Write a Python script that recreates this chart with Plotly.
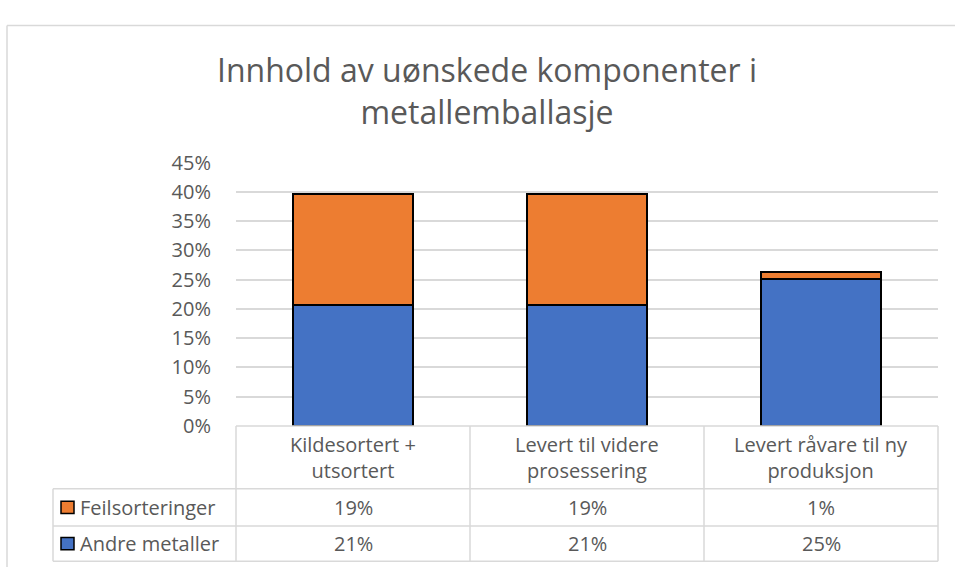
import plotly.graph_objects as go

# Data
categories = ["Kildesortert +<br>utsortert", "Levert til videre<br>prosessering", "Levert råvare til ny<br>produksjon"]
series_names = ["Feilsorteringer", "Andre metaller"]
andre_metaller = [0.206, 0.206, 0.251]
feilsorteringer = [0.190, 0.190, 0.012]
y_ticks = [0, 0.05, 0.10, 0.15, 0.20, 0.25, 0.30, 0.35, 0.40, 0.45]

W, H = 955, 580
BLUE = "#4472c4"
ORANGE = "#ed7d31"
GRID = "#d9d9d9"
TEXT = "#595959"
FONT = "Open Sans"

# plot area in pixels
px_left, px_right = 236, 938
px_top, px_bottom = 156, 432


def fx(px):
    return px / W


def fy(py):
    return 1 - py / H


fig = go.Figure()
fig.add_trace(
    go.Bar(
        x=list(range(len(categories))),
        y=andre_metaller,
        name=series_names[1],
        marker=dict(color=BLUE, line=dict(color="black", width=2)),
    )
)
fig.add_trace(
    go.Bar(
        x=list(range(len(categories))),
        y=feilsorteringer,
        name=series_names[0],
        marker=dict(color=ORANGE, line=dict(color="black", width=2)),
    )
)

shapes = []
annotations = []

# chart border: only the top and left edges are inside the picture
border = dict(color=GRID, width=1.5)
shapes.append(dict(type="line", xref="paper", yref="paper",
                   x0=fx(7), x1=1, y0=fy(12), y1=fy(12), line=border))
shapes.append(dict(type="line", xref="paper", yref="paper",
                   x0=fx(7), x1=fx(7), y0=fy(12), y1=0, line=border))

# data table grid
col_w = (px_right - px_left) / len(categories)
row_y = [432, 498, 537, 574]
line_style = dict(color=GRID, width=1.5)
# header top
shapes.append(dict(type="line", xref="paper", yref="paper",
                   x0=fx(px_left), x1=fx(px_right), y0=fy(row_y[0]), y1=fy(row_y[0]), line=line_style))
for ry in row_y[1:]:
    shapes.append(dict(type="line", xref="paper", yref="paper",
                       x0=fx(53), x1=fx(px_right), y0=fy(ry), y1=fy(ry), line=line_style))
for i in range(len(categories) + 1):
    cx = px_left + i * col_w
    shapes.append(dict(type="line", xref="paper", yref="paper",
                       x0=fx(cx), x1=fx(cx), y0=fy(row_y[0]), y1=fy(row_y[3]), line=line_style))
shapes.append(dict(type="line", xref="paper", yref="paper",
                   x0=fx(53), x1=fx(53), y0=fy(row_y[1]), y1=fy(row_y[3]), line=line_style))

# header labels
for i, cat in enumerate(categories):
    annotations.append(dict(xref="paper", yref="paper",
                            x=fx(px_left + (i + 0.5) * col_w), y=fy((row_y[0] + row_y[1]) / 2),
                            text=cat, showarrow=False, xanchor="center", yanchor="middle",
                            font=dict(family=FONT, size=20, color=TEXT)))

# value rows
rows = [(series_names[0], feilsorteringer, ORANGE), (series_names[1], andre_metaller, BLUE)]
for r, (name, vals, color) in enumerate(rows):
    yc = (row_y[r + 1] + row_y[r + 2]) / 2
    shapes.append(dict(type="rect", xref="paper", yref="paper",
                       x0=fx(61), x1=fx(74), y0=fy(yc - 6.5), y1=fy(yc + 6.5),
                       fillcolor=color, line=dict(color="black", width=1.5)))
    annotations.append(dict(xref="paper", yref="paper", x=fx(78), y=fy(yc),
                            text=name, showarrow=False, xanchor="left", yanchor="middle",
                            font=dict(family=FONT, size=20, color=TEXT)))
    for i, v in enumerate(vals):
        annotations.append(dict(xref="paper", yref="paper",
                                x=fx(px_left + (i + 0.5) * col_w), y=fy(yc),
                                text=f"{round(v * 100)}%", showarrow=False,
                                xanchor="center", yanchor="middle",
                                font=dict(family=FONT, size=20, color=TEXT)))

fig.update_layout(
    width=W,
    height=H,
    margin=dict(l=0, r=0, t=0, b=0),
    paper_bgcolor="white",
    plot_bgcolor="white",
    barmode="stack",
    bargap=0.487,
    showlegend=False,
    title=dict(text="Innhold av uønskede komponenter i<br>metallemballasje",
               x=fx(487), xanchor="center", y=fy(82), yanchor="middle",
               font=dict(family=FONT, size=32, color=TEXT)),
    xaxis=dict(domain=[fx(px_left), fx(px_right)], range=[-0.5, 2.5],
               showticklabels=False, showgrid=False, zeroline=False, showline=False),
    yaxis=dict(domain=[fy(px_bottom), fy(px_top)], range=[0, 0.45],
               tickvals=y_ticks, tickformat=".0%", showgrid=True, gridcolor=GRID,
               gridwidth=1.5, zeroline=False, showline=False, ticks="",
               ticklabelstandoff=24,
               tickfont=dict(family=FONT, size=20, color=TEXT)),
    shapes=shapes,
    annotations=annotations,
)

# no page margin, so the figure sits at the top-left corner of the window
fig.write_html("out.html", config={"displayModeBar": False},
               post_script="document.body.style.margin = '0';")
